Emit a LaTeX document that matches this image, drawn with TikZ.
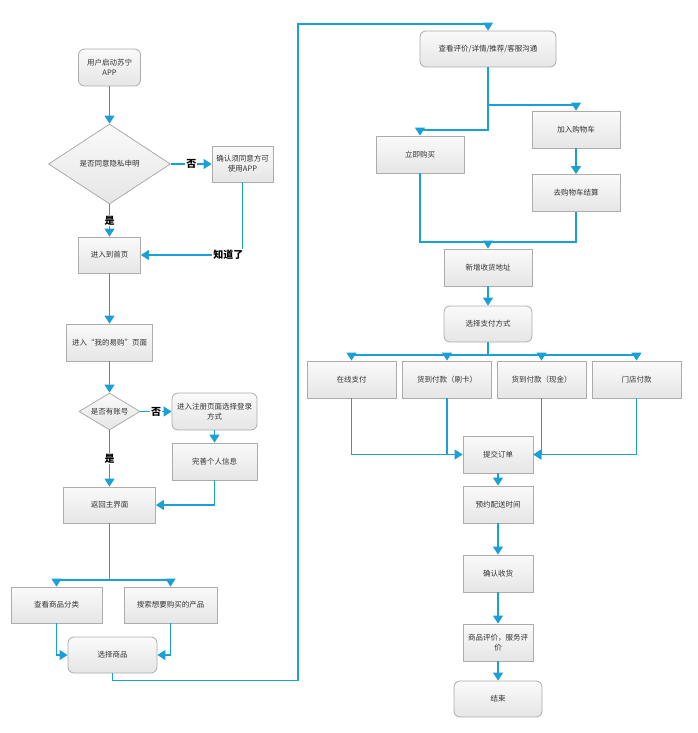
\documentclass[tikz,border=0pt]{standalone}
\usepackage{fontspec}
\setmainfont{Noto Sans CJK SC}
\usetikzlibrary{shapes.geometric,arrows.meta}
\definecolor{flow}{RGB}{27,160,214}
\tikzset{
  box/.style={draw=gray!65,line width=0.8pt,top color=gray!4,bottom color=gray!20,minimum height=37pt,align=center,font=\fontsize{7.5}{10}\selectfont,text=black!80,inner sep=1pt},
  rbox/.style={box,rounded corners=6pt},
  ask/.style={box,diamond,aspect=2,inner sep=0pt},
  ln/.style={draw=flow,line width=1.2pt},
  arr/.style={ln,-{Triangle[width=10pt,length=8pt]}},
  ans/.style={fill=white,font=\fontsize{10}{12}\selectfont\bfseries,text=black,inner sep=1pt}
}
\begin{document}
\begin{tikzpicture}[x=1pt,y=-1pt]
\useasboundingbox (0,0) rectangle (697,733);
% left column
\node[rbox,minimum width=62pt] (start) at (109.5,67.5) {用户启动苏宁\\APP};
\node[ask,minimum width=122pt,minimum height=80pt] (q1) at (109.5,164) {是否同意隐私申明};
\node[box,minimum width=61pt,minimum height=36pt] (confirm) at (242.5,164) {确认须同意方可\\使用APP};
\node[box,minimum width=62pt,minimum height=36pt] (home) at (109.5,255) {进入到首页};
\node[box,minimum width=86pt] (mine) at (109.5,342.5) {进入“我的易购”页面};
\node[ask,minimum width=61pt,minimum height=37pt] (q2) at (109.5,411.5) {是否有账号};
\node[rbox,minimum width=85pt] (reg) at (214.5,411.5) {进入注册页面选择登录\\方式};
\node[box,minimum width=85pt] (info) at (214.5,461.5) {完善个人信息};
\node[box,minimum width=92pt,minimum height=36pt] (back) at (109.5,505) {返回主界面};
\node[box,minimum width=91pt,minimum height=36pt] (cat) at (56.5,605) {查看商品分类};
\node[box,minimum width=93pt,minimum height=36pt] (search) at (170.5,605) {搜索想要购买的产品};
\node[rbox,minimum width=89pt,minimum height=36pt] (pick) at (112.5,655) {选择商品};
% right column
\node[rbox,minimum width=136pt,minimum height=36pt] (view) at (488,49) {查看评价/详情/推荐/客服沟通};
\node[box,minimum width=88pt] (buy) at (420,154.5) {立即购买};
\node[box,minimum width=88pt] (cart) at (576,129.5) {加入购物车};
\node[box,minimum width=88pt] (settle) at (576,193) {去购物车结算};
\node[box,minimum width=88pt] (addr) at (488,267.5) {新增收货地址};
\node[rbox,minimum width=88pt,minimum height=36pt] (pay) at (488,324) {选择支付方式};
\foreach \n/\x/\t in {online/351.5/在线支付,card/447/货到付款（刷卡）,cash/541.5/货到付款（现金）,store/636.5/门店付款}
  \node[box,minimum width=89pt] (\n) at (\x,379.5) {\t};
\node[box,minimum width=70pt] (submit) at (498,454.5) {提交订单};
\node[box,minimum width=70pt] (sched) at (498,504.5) {预约配送时间};
\node[box,minimum width=70pt] (recv) at (498,573.5) {确认收货};
\node[box,minimum width=70pt] (review) at (498,642.5) {商品评价，服务评\\价};
\node[rbox,minimum width=88pt,minimum height=36pt] (finish) at (498,699) {结束};
% connectors
\draw[arr] (start) -- (q1);
\draw[arr] (q1) -- node[ans]{否} (confirm);
\draw[arr] (q1) -- node[ans]{是} (home);
\draw[arr] (confirm) |- node[ans,pos=0.57]{知道了} (home);
\draw[arr] (home) -- (mine);
\draw[arr] (mine) -- (q2);
\draw[arr] (q2) -- node[ans]{否} (reg);
\draw[arr] (q2) -- node[ans]{是} (back);
\draw[arr] (reg) -- (info);
\draw[arr] (info) |- (back);
\coordinate (fork1) at (109.5,580);
\draw[ln] (back) -- (fork1);
\draw[arr] (fork1) -| (cat);
\draw[arr] (fork1) -| (search);
\draw[arr] (cat) |- (pick);
\draw[arr] (search) |- (pick);
\coordinate (loop) at (298,24);
\draw[arr] (pick.south) -- ++(0,7) -| (loop) -| (view);
\coordinate (fork2) at (488,105);
\draw[ln] (view) -- (fork2);
\draw[arr] (fork2) -| (cart);
\draw[arr] (fork2) -- ++(0,25) -| (buy);
\draw[arr] (cart) -- (settle);
\coordinate (join1) at (488,242);
\draw[ln] (buy) |- (join1) -| (settle);
\draw[arr] (join1) -- (addr);
\draw[arr] (addr) -- (pay);
\coordinate (fork3) at (488,355);
\draw[ln] (pay) -- (fork3);
\foreach \n in {online,card,cash,store} \draw[arr] (fork3) -| (\n);
\draw[arr] (online) |- (submit);
\draw[ln] (card) -- (card |- submit);
\draw[arr] (cash) |- (submit);
\draw[arr] (store) |- (submit);
\foreach \a/\b in {submit/sched,sched/recv,recv/review,review/finish} \draw[arr] (\a) -- (\b);
\end{tikzpicture}
\end{document}
